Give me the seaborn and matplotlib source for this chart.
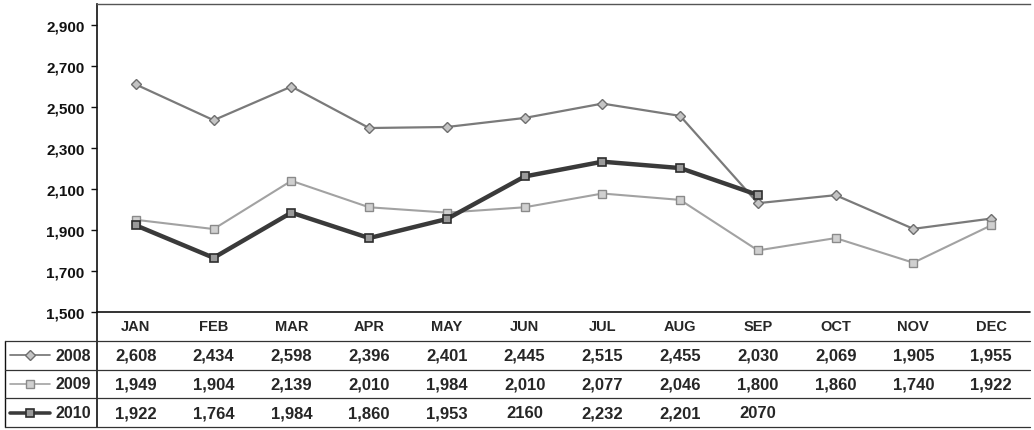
#monthly lines 2008-2010 with excel style data table underneath
from matplotlib import pyplot as plt
from matplotlib.lines import Line2D
import pandas as pd
import numpy as np
import seaborn as sns

#data
months = ['JAN', 'FEB', 'MAR', 'APR', 'MAY', 'JUN', 'JUL', 'AUG', 'SEP', 'OCT', 'NOV', 'DEC']
years = ['2008', '2009', '2010']
v2008 = [2608, 2434, 2598, 2396, 2401, 2445, 2515, 2455, 2030, 2069, 1905, 1955]
v2009 = [1949, 1904, 2139, 2010, 1984, 2010, 2077, 2046, 1800, 1860, 1740, 1922]
v2010 = [1922, 1764, 1984, 1860, 1953, 2160, 2232, 2201, 2070, np.nan, np.nan, np.nan]
#table text as printed (some cells have no comma in the source)
t2008 = ['2,608', '2,434', '2,598', '2,396', '2,401', '2,445', '2,515', '2,455', '2,030', '2,069', '1,905', '1,955']
t2009 = ['1,949', '1,904', '2,139', '2,010', '1,984', '2,010', '2,077', '2,046', '1,800', '1,860', '1,740', '1,922']
t2010 = ['1,922', '1,764', '1,984', '1,860', '1,953', '2160', '2,232', '2,201', '2070', '', '', '']
yticks = [1500, 1700, 1900, 2100, 2300, 2500, 2700, 2900]

sns.set_style('white')
plt.rcParams['font.family'] = ['Liberation Sans', 'DejaVu Sans']

series = {'2008': v2008, '2009': v2009, '2010': v2010}
texts = {'2008': t2008, '2009': t2009, '2010': t2010}
#line style per year
styles = {
    '2008': dict(color='#7a7a7a', lw=1.6, marker='D', ms=5.5, mfc='#c4c4c4', mec='#6e6e6e', mew=1.0),
    '2009': dict(color='#a2a2a2', lw=1.5, marker='s', ms=6, mfc='#d0d0d0', mec='#8a8a8a', mew=1.0),
    '2010': dict(color='#3a3a3a', lw=3.2, marker='s', ms=6, mfc='#9a9a9a', mec='#2e2e2e', mew=1.2),
}

fig = plt.figure(figsize=(10.34, 4.31), dpi=100)
left, width = 97 / 1034, 933 / 1034
ax = fig.add_axes([left, 118 / 431, width, 308 / 431])
tab = fig.add_axes([left, 3 / 431, width, 115 / 431], sharex=ax)

pos = np.arange(len(months))
for yr in years:
    df = pd.DataFrame({'pos': pos, 'value': series[yr]}).dropna()
    sns.lineplot(data=df, x='pos', y='value', ax=ax, **styles[yr])

ax.set_xlim(-0.5, 11.5)
ax.set_ylim(1500, 3000)
ax.set_yticks(yticks)
ax.set_yticklabels([f'{v:,}' for v in yticks], fontsize=11, fontweight='bold')
ax.tick_params(axis='y', left=True, length=4, width=1, pad=5, colors='#111111')
ax.tick_params(axis='x', bottom=False, labelbottom=False)
ax.set_xlabel('')
ax.set_ylabel('')
ax.spines['right'].set_visible(False)
ax.spines['bottom'].set_visible(False)
ax.spines['left'].set_color('#111111')
ax.spines['left'].set_linewidth(1.2)
ax.spines['top'].set_color('#555555')
ax.spines['top'].set_linewidth(1.0)

#data table
tab.set_ylim(4, 0)
tab.axis('off')
tr = tab.get_yaxis_transform()
xl = -92 / 933
tab.plot([0, 0], [0, 4], transform=tr, color='#111111', lw=1.2, clip_on=False)
tab.plot([xl, xl], [1, 4], transform=tr, color='#111111', lw=1.0, clip_on=False)
tab.plot([0, 1], [0, 0], transform=tr, color='#111111', lw=1.2, clip_on=False)
for r in [1, 2, 3, 4]:
    tab.plot([xl, 1], [r, r], transform=tr, color='#333333', lw=0.9, clip_on=False)

for i, m in enumerate(months):
    tab.text(i, 0.5, m, ha='center', va='center', fontsize=10.5, fontweight='bold')
for r, yr in enumerate(years, start=1):
    for i, t in enumerate(texts[yr]):
        tab.text(i, r + 0.5, t, ha='center', va='center', fontsize=12, fontweight='bold')
    st = styles[yr]
    tab.add_line(Line2D([-87 / 933, -47 / 933], [r + 0.5, r + 0.5], transform=tr,
                        color=st['color'], lw=st['lw'] * 0.8, clip_on=False))
    tab.add_line(Line2D([-67 / 933], [r + 0.5], transform=tr, marker=st['marker'],
                        ms=st['ms'] - 0.5, mfc=st['mfc'], mec=st['mec'], mew=st['mew'],
                        lw=0, clip_on=False))
    tab.text(-42 / 933, r + 0.5, yr, transform=tr, ha='left', va='center',
             fontsize=11.5, fontweight='bold')

plt.savefig('out.png', dpi=100)
